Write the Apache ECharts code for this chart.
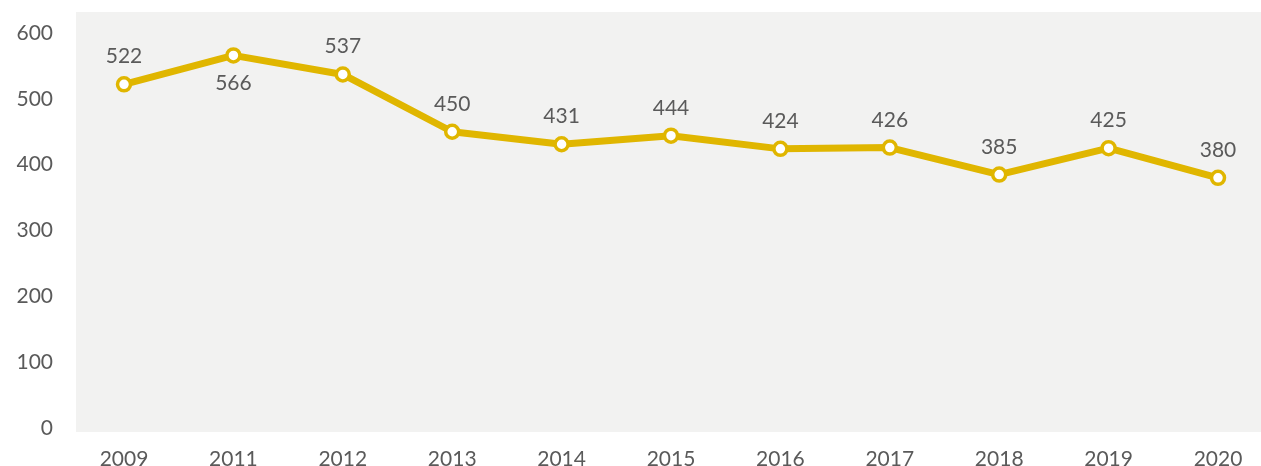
<!DOCTYPE html>
<html>
<head>
<meta charset="utf-8">
<script src="https://cdn.jsdelivr.net/npm/echarts@6/dist/echarts.min.js"></script>
<style>
  html, body { margin: 0; padding: 0; background: #ffffff; }
  #chart { width: 1261px; height: 466px; }
</style>
</head>
<body>
<div id="chart"></div>
<script>
// Yearly values drawn as a single line
const years = ['2009', '2011', '2012', '2013', '2014', '2015', '2016', '2017', '2018', '2019', '2020'];
const values = [522, 566, 537, 450, 431, 444, 424, 426, 385, 425, 380];
// Labels that sit under their point instead of above
const belowLabels = ['2011'];

const chart = echarts.init(document.getElementById('chart'));
const textColor = '#5a5a5a';
const fontFamily = 'Lato, "Noto Sans", sans-serif';

chart.setOption({
  animation: false,
  backgroundColor: '#ffffff',
  graphic: [{
    type: 'rect',
    z: -10,
    silent: true,
    shape: { x: 76, y: 12, width: 1185, height: 420 },
    style: { fill: '#f2f2f1' }
  }],
  grid: {
    left: 124, right: 43, top: 33, bottom: 38,
    containLabel: false,
    outerBoundsMode: 'none'
  },
  xAxis: {
    type: 'category',
    data: years,
    boundaryGap: false,
    axisLine: { show: false },
    axisTick: { show: false },
    axisLabel: { color: textColor, fontSize: 21, fontFamily: fontFamily, margin: 21 }
  },
  yAxis: {
    type: 'value',
    min: 0,
    max: 600,
    interval: 100,
    splitLine: { show: false },
    axisLine: { show: false },
    axisTick: { show: false },
    axisLabel: { color: textColor, fontSize: 21, fontFamily: fontFamily, margin: 71 }
  },
  series: [{
    type: 'line',
    data: values.map((v, i) => ({
      value: v,
      label: belowLabels.includes(years[i])
        ? { position: 'bottom', distance: 9 }
        : { position: 'top', distance: 9 }
    })),
    lineStyle: { color: '#e0b600', width: 7 },
    itemStyle: { color: '#ffffff', borderColor: '#e0b600', borderWidth: 3.5 },
    symbol: 'circle',
    symbolSize: 13,
    label: { show: true, color: textColor, fontSize: 21, fontFamily: fontFamily }
  }]
});
</script>
</body>
</html>
